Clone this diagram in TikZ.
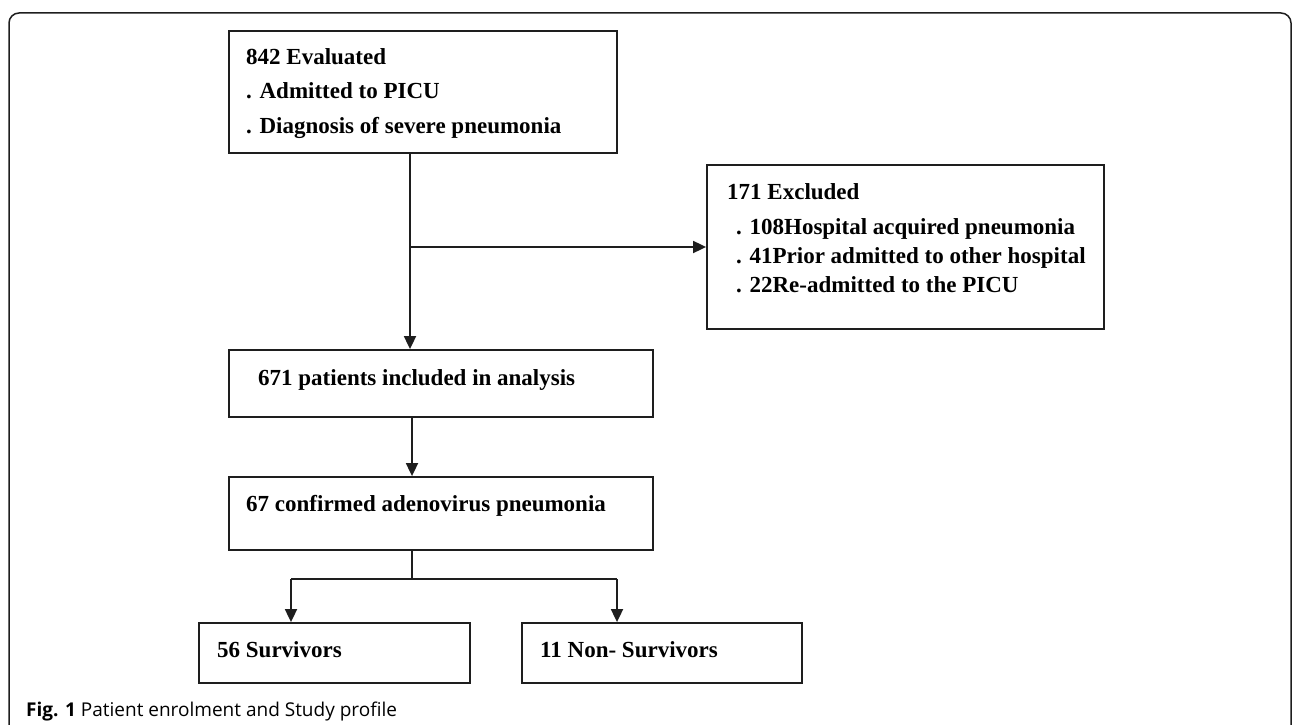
\documentclass[tikz,border=0pt]{standalone}
\usepackage{fontspec}
\setmainfont{Liberation Serif}
\newfontfamily\capfont{Open Sans}
\usetikzlibrary{arrows.meta}
\definecolor{ink}{HTML}{1E1E1E}
\begin{document}
\begin{tikzpicture}[x=1pt,y=-1pt,
  box/.style={draw=ink, line width=1.8pt, rectangle, inner sep=0pt},
  txt/.style={anchor=base west, inner sep=0pt, font=\fontsize{23}{27}\selectfont\bfseries, text=black},
  conn/.style={draw=ink, line width=1.8pt},
  arr/.style={conn, -{Triangle[length=13pt,width=12pt]}}]
\useasboundingbox (0,0) rectangle (1293,725);
% outer frame
\draw[line width=1.5pt, rounded corners=10pt, ink] (9,726) -- (9,13) -- (1291,13) -- (1291,726);
% boxes
\node[box, minimum width=388pt, minimum height=122pt] (b1) at (423,92) {};
\node[box, minimum width=397pt, minimum height=164pt] (b3) at (905.5,247) {};
\node[box, minimum width=424pt, minimum height=67pt] (b2) at (441,383.5) {};
\node[box, minimum width=424pt, minimum height=73pt] (b4) at (441,513.5) {};
\node[box, minimum width=271pt, minimum height=60pt] (b5) at (334.5,653) {};
\node[box, minimum width=280pt, minimum height=60pt] (b6) at (662,653) {};
% texts
\node[txt] (t1a) at (246,65) {842 Evaluated};
\node[txt] (t1b) at (246,98) {. Admitted to PICU};
\node[txt] (t1c) at (246,133) {. Diagnosis of severe pneumonia};
\node[txt] (t3a) at (727,199) {171 Excluded};
\node[txt] (t3b) at (736,234) {. 108Hospital acquired pneumonia};
\node[txt] (t3c) at (736,263) {. 41Prior admitted to other hospital};
\node[txt] (t3d) at (736,292) {. 22Re-admitted to the PICU};
\node[txt] (t2) at (258,385) {671 patients included in analysis};
\node[txt] (t4) at (246,511) {67 confirmed adenovirus pneumonia};
\node[txt] (t5) at (217,657) {56 Survivors};
\node[txt] (t6) at (540,657) {11 Non- Survivors};
% connectors
\coordinate (j1) at (410,247);
\draw[arr] (b1.south -| j1) -- (b2.north -| j1);
\draw[arr] (j1) -- (b3.west);
\coordinate (j2) at (412,579);
\draw[arr] (b2.south -| j2) -- (b4.north -| j2);
\draw[conn] (b4.south -| j2) -- (j2);
\coordinate (l5) at (291,579);
\coordinate (l6) at (617,579);
\draw[conn] (l5) -- (l6);
\draw[arr] (l5) -- (b5.north -| l5);
\draw[arr] (l6) -- (b6.north -| l6);
% caption
\node[anchor=base west, inner sep=0pt, font=\capfont\fontsize{19}{22}\selectfont] (cap) at (26,716) {\textbf{Fig. 1} Patient enrolment and Study profile};
\end{tikzpicture}
\end{document}
